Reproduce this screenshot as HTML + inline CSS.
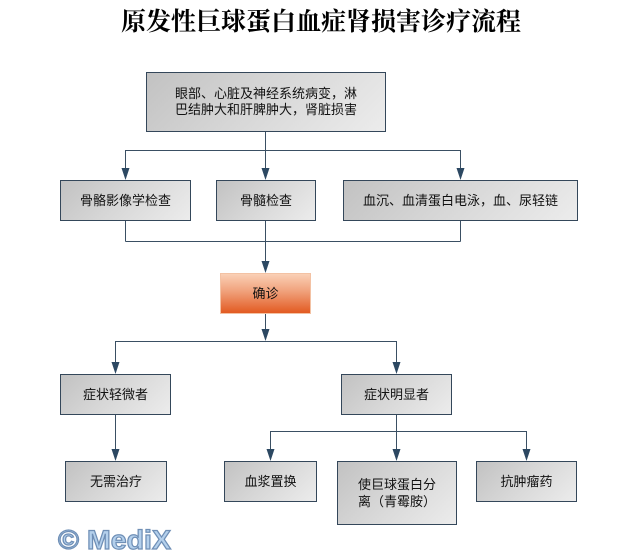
<!DOCTYPE html>
<html>
<head>
<meta charset="utf-8">
<style>
html,body{margin:0;padding:0;background:#fff;}
body{width:642px;height:550px;position:relative;overflow:hidden;font-family:"Liberation Sans","Noto Sans CJK SC",sans-serif;}
.title{position:absolute;left:0;top:8px;width:642px;text-align:center;font-family:"Liberation Serif","Noto Serif CJK SC",serif;font-weight:bold;font-size:25px;line-height:30px;color:#000;letter-spacing:0px;}
.box{position:absolute;box-sizing:border-box;border:1px solid #34475a;background:linear-gradient(135deg,#c2c2c2 0%,#d6d6d6 45%,#ececec 100%);display:flex;align-items:center;justify-content:center;text-align:center;font-size:13px;line-height:16px;color:#111;}
.orange{border:1px solid #f3c2a4;background:linear-gradient(180deg,#fad0b6 0%,#f0a07a 45%,#e25a22 100%);}
svg{position:absolute;left:0;top:0;}
</style>
</head>
<body>
<div class="title">原发性巨球蛋白血症肾损害诊疗流程</div>

<svg width="642" height="550" viewBox="0 0 642 550">
  <g stroke="#3a4f63" stroke-width="1" fill="none">
    <line x1="265.5" y1="131" x2="265.5" y2="170"/>
    <line x1="125.5" y1="150.5" x2="460.5" y2="150.5"/>
    <line x1="125.5" y1="150" x2="125.5" y2="170"/>
    <line x1="460.5" y1="150" x2="460.5" y2="170"/>

    <line x1="125.5" y1="220" x2="125.5" y2="241.5"/>
    <line x1="460.5" y1="220" x2="460.5" y2="241.5"/>
    <line x1="125.5" y1="241.5" x2="460.5" y2="241.5"/>
    <line x1="265.5" y1="220" x2="265.5" y2="263"/>

    <line x1="265.5" y1="313" x2="265.5" y2="331"/>
    <line x1="115.5" y1="341.5" x2="396.5" y2="341.5"/>
    <line x1="115.5" y1="341" x2="115.5" y2="364"/>
    <line x1="396.5" y1="341" x2="396.5" y2="364"/>

    <line x1="115.5" y1="414" x2="115.5" y2="451"/>

    <line x1="396.5" y1="414" x2="396.5" y2="451"/>
    <line x1="270.5" y1="431.5" x2="526.5" y2="431.5"/>
    <line x1="270.5" y1="431" x2="270.5" y2="451"/>
    <line x1="526.5" y1="431" x2="526.5" y2="451"/>
  </g>
  <g fill="#2c4862">
    <polygon points="121.5,168 129.5,168 125.5,180"/>
    <polygon points="261.5,168 269.5,168 265.5,180"/>
    <polygon points="456.5,168 464.5,168 460.5,180"/>
    <polygon points="261.5,261 269.5,261 265.5,273"/>
    <polygon points="261.5,329 269.5,329 265.5,341"/>
    <polygon points="111.5,362 119.5,362 115.5,374"/>
    <polygon points="392.5,362 400.5,362 396.5,374"/>
    <polygon points="111.5,449 119.5,449 115.5,461"/>
    <polygon points="266.5,449 274.5,449 270.5,461"/>
    <polygon points="392.5,449 400.5,449 396.5,461"/>
    <polygon points="522.5,449 530.5,449 526.5,461"/>
  </g>
  <text x="58" y="549" textLength="113" lengthAdjust="spacingAndGlyphs" font-family="Liberation Sans, sans-serif" font-weight="bold" font-size="27" fill="#b4d0ec" stroke="#6f8fb6" stroke-width="1.2">© MediX</text>
</svg>

<div class="box" style="left:146px;top:72px;width:240px;height:60px;">眼部、心脏及神经系统病变，淋<br>巴结肿大和肝脾肿大，肾脏损害</div>

<div class="box" style="left:60px;top:180px;width:131px;height:41px;">骨骼影像学检查</div>
<div class="box" style="left:216px;top:180px;width:100px;height:41px;">骨髓检查</div>
<div class="box" style="left:343px;top:180px;width:235px;height:41px;">血沉、血清蛋白电泳，血、尿轻链</div>

<div class="box orange" style="left:220px;top:273px;width:91px;height:41px;">确诊</div>

<div class="box" style="left:60px;top:374px;width:111px;height:41px;">症状轻微者</div>
<div class="box" style="left:341px;top:374px;width:111px;height:41px;">症状明显者</div>

<div class="box" style="left:65px;top:461px;width:102px;height:41px;">无需治疗</div>
<div class="box" style="left:224px;top:461px;width:93px;height:41px;">血浆置换</div>
<div class="box" style="left:337px;top:461px;width:120px;height:64px;line-height:17px;">使巨球蛋白分<br>离（青霉胺）</div>
<div class="box" style="left:476px;top:461px;width:101px;height:41px;">抗肿瘤药</div>
</body>
</html>
